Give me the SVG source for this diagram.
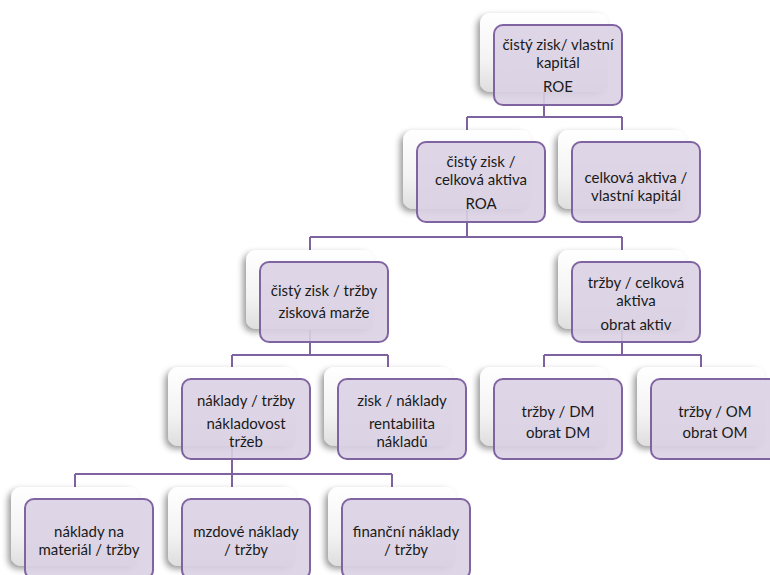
<svg xmlns="http://www.w3.org/2000/svg" width="770" height="575" viewBox="0 0 770 575">
<defs>
<linearGradient id="bgG" x1="0" y1="0" x2="0" y2="1">
<stop offset="0" stop-color="#ffffff"/>
<stop offset="0.6" stop-color="#f3f3f3"/>
<stop offset="1" stop-color="#dedede"/>
</linearGradient>
<filter id="sh" x="-20%" y="-20%" width="140%" height="140%">
<feDropShadow dx="-3" dy="3" stdDeviation="3" flood-color="#000" flood-opacity="0.4"/>
</filter>
</defs>
<style>
.bg{fill:url(#bgG);filter:url(#sh)}
.fr{fill:#dad1e3;fill-opacity:0.9;stroke:#8064a2;stroke-width:2}
.cn{fill:none;stroke:#7f63a1;stroke-width:2}
text{font-family:Lato,"Open Sans","Liberation Sans",sans-serif;font-size:15px;fill:#1a1a1a;text-anchor:middle}
</style>
<rect width="770" height="575" fill="#ffffff"/>
<g id="connectors">
<path class="cn" d="M544 90V117M467 117H622M467 117V130M622 117V130"/>
<path class="cn" d="M467 210V237M310 237H622M310 237V250M622 237V250"/>
<path class="cn" d="M310 330V355M232 355H388M232 355V367M388 355V367"/>
<path class="cn" d="M622 330V355M544 355H701M544 355V367M701 355V367"/>
<path class="cn" d="M232 447V474M75 474H392M75 474V487M232 474V487M392 474V487"/>
</g>
<g id="n-roe">
<rect class="bg" x="480" y="13" width="128" height="79" rx="10"/>
<rect class="fr" x="494" y="25" width="128" height="80" rx="9"/>
<text x="558" y="50">čistý zisk/ vlastní</text>
<text x="558" y="68">kapitál</text>
<text x="558" y="92">ROE</text>
</g>
<g id="n-roa">
<rect class="bg" x="403" y="130" width="128" height="79" rx="10"/>
<rect class="fr" x="417" y="142" width="128" height="80" rx="9"/>
<text x="481" y="167">čistý zisk /</text>
<text x="481" y="185">celková aktiva</text>
<text x="481" y="209">ROA</text>
</g>
<g id="n-ca">
<rect class="bg" x="558" y="130" width="128" height="79" rx="10"/>
<rect class="fr" x="572" y="142" width="128" height="80" rx="9"/>
<text x="636" y="183">celková aktiva /</text>
<text x="636" y="201">vlastní kapitál</text>
</g>
<g id="n-marze">
<rect class="bg" x="246" y="250" width="128" height="79" rx="10"/>
<rect class="fr" x="260" y="262" width="128" height="80" rx="9"/>
<text x="324" y="296">čistý zisk / tržby</text>
<text x="324" y="318">zisková marže</text>
</g>
<g id="n-obrat">
<rect class="bg" x="558" y="250" width="128" height="79" rx="10"/>
<rect class="fr" x="572" y="262" width="128" height="80" rx="9"/>
<text x="636" y="288">tržby / celková</text>
<text x="636" y="306">aktiva</text>
<text x="636" y="330">obrat aktiv</text>
</g>
<g id="n-nakl">
<rect class="bg" x="168" y="367" width="128" height="79" rx="10"/>
<rect class="fr" x="182" y="379" width="128" height="80" rx="9"/>
<text x="246" y="406">náklady / tržby</text>
<text x="246" y="429">nákladovost</text>
<text x="246" y="447">tržeb</text>
</g>
<g id="n-rent">
<rect class="bg" x="324" y="367" width="128" height="79" rx="10"/>
<rect class="fr" x="338" y="379" width="128" height="80" rx="9"/>
<text x="402" y="406">zisk / náklady</text>
<text x="402" y="429">rentabilita</text>
<text x="402" y="447">nákladů</text>
</g>
<g id="n-dm">
<rect class="bg" x="480" y="367" width="128" height="79" rx="10"/>
<rect class="fr" x="494" y="379" width="128" height="80" rx="9"/>
<text x="558" y="417">tržby / DM</text>
<text x="558" y="438">obrat DM</text>
</g>
<g id="n-om">
<rect class="bg" x="637" y="367" width="128" height="79" rx="10"/>
<rect class="fr" x="651" y="379" width="128" height="80" rx="9"/>
<text x="715" y="417">tržby / OM</text>
<text x="715" y="438">obrat OM</text>
</g>
<g id="n-mat">
<rect class="bg" x="11" y="487" width="128" height="79" rx="10"/>
<rect class="fr" x="25" y="499" width="128" height="80" rx="9"/>
<text x="89" y="537">náklady na</text>
<text x="89" y="555">materiál / tržby</text>
</g>
<g id="n-mzd">
<rect class="bg" x="168" y="487" width="128" height="79" rx="10"/>
<rect class="fr" x="182" y="499" width="128" height="80" rx="9"/>
<text x="246" y="537">mzdové náklady</text>
<text x="246" y="555">/ tržby</text>
</g>
<g id="n-fin">
<rect class="bg" x="328" y="487" width="128" height="79" rx="10"/>
<rect class="fr" x="342" y="499" width="128" height="80" rx="9"/>
<text x="406" y="537">finanční náklady</text>
<text x="406" y="555">/ tržby</text>
</g>
</svg>
